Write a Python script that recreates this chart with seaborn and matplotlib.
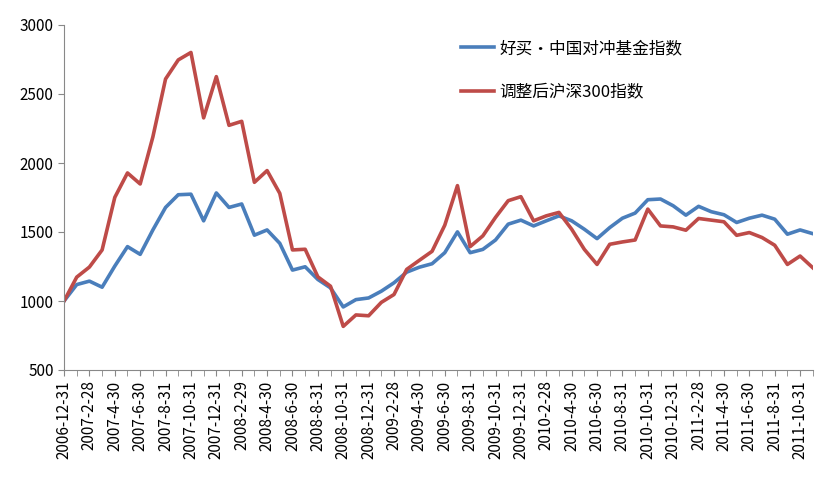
import matplotlib
matplotlib.use("Agg")
import matplotlib.pyplot as plt
import seaborn as sns
import pandas as pd
import numpy as np

plt.rcParams["font.family"] = ["Noto Sans CJK SC", "DejaVu Sans"]

months = pd.date_range("2006-12-31", periods=60, freq="ME")
dates = [f"{d.year}-{d.month}-{d.day}" for d in months]

hedge = [1000, 1119, 1144, 1100, 1253, 1394, 1338, 1515, 1678, 1770, 1774, 1581, 1783, 1678, 1703,
         1477, 1515, 1418, 1224, 1248, 1156, 1095, 957, 1010, 1022, 1071, 1132, 1209, 1245, 1270,
         1350, 1501, 1350, 1374, 1442, 1557, 1586, 1544, 1581, 1617, 1581, 1520, 1452, 1532, 1600,
         1637, 1734, 1739, 1690, 1622, 1686, 1647, 1625, 1569, 1600, 1622, 1593, 1484, 1515, 1488]
csi = [1000, 1173, 1246, 1370, 1751, 1928, 1848, 2189, 2609, 2747, 2801, 2327, 2626, 2273, 2302,
       1860, 1945, 1780, 1370, 1375, 1175, 1107, 816, 899, 893, 990, 1047, 1229, 1295, 1360,
       1549, 1836, 1394, 1472, 1606, 1727, 1756, 1581, 1617, 1642, 1520, 1374, 1265, 1411, 1428,
       1442, 1666, 1544, 1537, 1513, 1598, 1586, 1574, 1476, 1496, 1460, 1404, 1265, 1326, 1241]
names = ["好买•中国对冲基金指数", "调整后沪深300指数"]

df = pd.DataFrame({"i": list(range(60)) * 2, "v": hedge + csi,
                   "s": [names[0]] * 60 + [names[1]] * 60})

fig, ax = plt.subplots(figsize=(8.21, 5.0), dpi=100)
sns.lineplot(data=df, x="i", y="v", hue="s", palette=["#4A7EBB", "#BE4B48"], linewidth=2.6, ax=ax)
ax.set_xlim(0, 59)
ax.set_ylim(500, 3000)
ax.set_yticks(range(500, 3001, 500))
ax.set_xticks(range(0, 60, 2))
ax.set_xticklabels(dates[::2], rotation=90, fontsize=11)
ax.set_xticks(range(60), minor=True)
ax.tick_params(axis="y", labelsize=11, length=4, color="#888888")
ax.tick_params(axis="x", which="both", length=4, color="#888888")
ax.set_xlabel("")
ax.set_ylabel("")
for s in ["top", "right"]:
    ax.spines[s].set_visible(False)
for s in ["left", "bottom"]:
    ax.spines[s].set_color("#888888")
leg = ax.legend(loc="upper left", frameon=False, fontsize=12, labelspacing=1.6,
                bbox_to_anchor=(0.51, 1.0), handlelength=2.0, handletextpad=0.3)
plt.subplots_adjust(left=0.078, right=0.99, top=0.95, bottom=0.26)
fig.savefig("out.png", dpi=100)
